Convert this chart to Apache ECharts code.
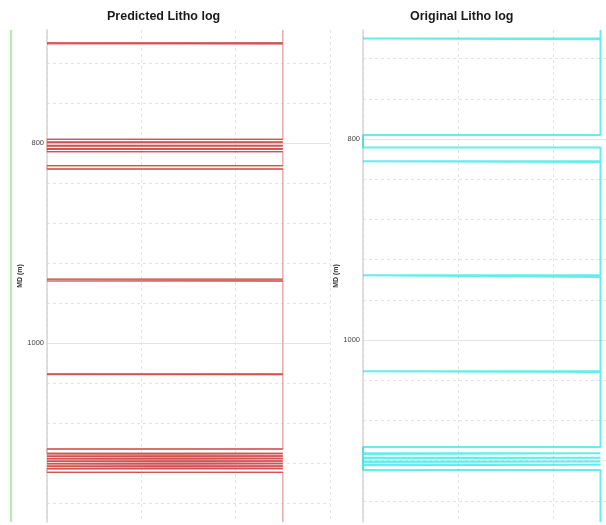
<!DOCTYPE html>
<html>
<head>
<meta charset="utf-8">
<script src="https://cdn.jsdelivr.net/npm/echarts@6/dist/echarts.min.js"></script>
<style>
html,body{margin:0;padding:0;background:#fff;}
#chart{width:606px;height:525px;}
</style>
</head>
<body>
<div id="chart"></div>
<script>
// ---- data (depth in m, MD) ----
const lithoCodes = [0, 2.5];            // low / high litho code values on x
const titles = ['Predicted Litho log', 'Original Litho log'];
const yTickLabels = [800, 1000];
// Predicted: intervals where litho code is low (top, base)
const predTop  = [699.8, 796.3, 799.6, 803.0, 806.3, 822.7, 936.2, 1031.0, 1106.0, 1110.8, 1113.3, 1115.8, 1118.3, 1120.8, 1123.3, 1125.8];
const predBase = [700.8, 799.0, 802.4, 805.7, 808.7, 826.0, 938.0, 1031.6, 1110.3, 1112.8, 1115.3, 1117.8, 1120.3, 1122.8, 1125.3, 1129.3];
const predRange = [687, 1179];
// Original
const origTop  = [700.0, 796.0, 822.0, 935.6, 1031.2, 1106.5, 1113.4, 1117.7, 1121.4, 1124.7];
const origBase = [700.8, 808.5, 822.8, 937.2, 1031.9, 1112.8, 1117.1, 1120.8, 1124.1, 1129.4];
const origRange = [691.5, 1181.1];
// neighbouring track (cut off at left)
const sideDepth = [687, 1179];
const sideValue = [1, 1];

function stepData(tops, bases, range) {
  const hi = lithoCodes[1], lo = lithoCodes[0];
  const d = [[hi, range[0]]];
  for (let i = 0; i < tops.length; i++) {
    d.push([hi, tops[i]], [lo, tops[i]], [lo, bases[i]], [hi, bases[i]]);
  }
  d.push([hi, range[1]]);
  return d;
}
// horizontal boundary segments only (drawn separately so they read darker)
function edgeData(tops, bases) {
  const hi = lithoCodes[1], lo = lithoCodes[0];
  const d = [];
  for (let i = 0; i < tops.length; i++) {
    d.push([lo, tops[i]], [hi, tops[i]], '-', [lo, bases[i]], [hi, bases[i]], '-');
  }
  return d;
}

const chart = echarts.init(document.getElementById('chart'), null, {renderer: 'canvas'});

function yAxisFor(gridIndex, range, show) {
  return {
    gridIndex: gridIndex, type: 'value', inverse: true, min: range[0], max: range[1],
    splitNumber: 2,
    show: show,
    name: 'MD (m)', nameLocation: 'middle', nameRotate: 90, nameGap: 22,
    nameTextStyle: {fontSize: 7, fontWeight: 'bold', color: '#333', fontFamily: 'Liberation Sans'},
    axisLine: {show: true, lineStyle: {color: '#d4d4d4', width: 1.5}},
    axisTick: {show: false},
    axisLabel: {fontSize: 7.5, color: '#444', margin: 3, fontFamily: 'Liberation Sans',
      showMinLabel: false, showMaxLabel: false,
      formatter: function (v) { return yTickLabels.indexOf(v) >= 0 ? String(v) : ''; }},
    splitLine: {show: true, showMinLine: false, showMaxLine: false, lineStyle: {color: '#e3e3e3', width: 1}},
    minorTick: {show: false, splitNumber: 5},
    minorSplitLine: {show: true, lineStyle: {color: '#e3e3e3', type: [3, 3], width: 1}}
  };
}
function xAxisFor(gridIndex, max, show) {
  return {
    gridIndex: gridIndex, type: 'value', min: 0, max: max, interval: 1, show: show,
    axisLine: {show: false}, axisTick: {show: false}, axisLabel: {show: false},
    splitLine: {show: true, lineStyle: {color: '#e3e3e3', type: [3, 3], width: 1}}
  };
}

chart.setOption({
  animation: false,
  backgroundColor: '#fff',
  title: [
    {text: titles[0], left: 107, top: 10, padding: 0,
     textStyle: {fontSize: 12.5, fontWeight: 'bold', color: '#1a1a1a', fontFamily: 'Liberation Sans'}},
    {text: titles[1], left: 410, top: 10, padding: 0,
     textStyle: {fontSize: 12.5, fontWeight: 'bold', color: '#1a1a1a', fontFamily: 'Liberation Sans'}}
  ],
  grid: [
    {left: 47, top: 30, width: 283, height: 492, outerBoundsMode: 'none', containLabel: false},
    {left: 363, top: 30, width: 285, height: 492, outerBoundsMode: 'none', containLabel: false},
    {left: -250, top: 30, width: 261, height: 492, outerBoundsMode: 'none', containLabel: false}
  ],
  xAxis: [xAxisFor(0, 3, true), xAxisFor(1, 3, true), xAxisFor(2, 1, false)],
  yAxis: [yAxisFor(0, predRange, true), yAxisFor(1, origRange, true), yAxisFor(2, predRange, false)],
  series: [
    {type: 'line', xAxisIndex: 0, yAxisIndex: 0, showSymbol: false, symbol: 'none',
     data: stepData(predTop, predBase, predRange),
     lineStyle: {color: '#e9a9a9', width: 1.5}},
    {type: 'line', xAxisIndex: 0, yAxisIndex: 0, showSymbol: false, symbol: 'none', connectNulls: false,
     data: edgeData(predTop, predBase),
     lineStyle: {color: '#c93636', width: 1.3, opacity: 0.75}},
    {type: 'line', xAxisIndex: 1, yAxisIndex: 1, showSymbol: false, symbol: 'none',
     data: stepData(origTop, origBase, origRange),
     lineStyle: {color: '#00e0e0', width: 2, opacity: 0.6}},
    {type: 'line', xAxisIndex: 2, yAxisIndex: 2, showSymbol: false, symbol: 'none',
     data: sideDepth.map(function (d, i) { return [sideValue[i], d]; }),
     lineStyle: {color: '#a8dca0', width: 2.5, opacity: 0.7}}
  ]
});
</script>
</body>
</html>
